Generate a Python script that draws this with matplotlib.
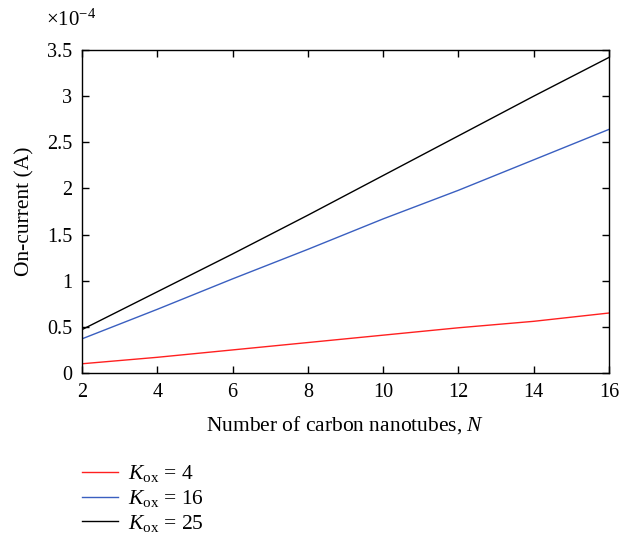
import matplotlib
matplotlib.use("Agg")
from matplotlib import pyplot as plt
from matplotlib.ticker import FuncFormatter
import numpy as np

plt.rcParams['font.family'] = ['Liberation Serif', 'DejaVu Serif']
plt.rcParams['mathtext.fontset'] = 'custom'
plt.rcParams['mathtext.rm'] = 'Liberation Serif'
plt.rcParams['mathtext.it'] = 'Liberation Serif:italic'

N = [2, 4, 6, 8, 10, 12, 14, 16]
# on-current in units of 1e-4 A
i_k4 = [0.10, 0.17, 0.25, 0.33, 0.41, 0.49, 0.56, 0.65]
i_k16 = [0.37, 0.69, 1.02, 1.34, 1.67, 1.98, 2.31, 2.64]
i_k25 = [0.47, 0.88, 1.29, 1.71, 2.14, 2.57, 3.00, 3.42]
labels = [r'$K_{\mathrm{ox}}$ = 4', r'$K_{\mathrm{ox}}$ = 16', r'$K_{\mathrm{ox}}$ = 25']
colors = ['#ff2020', '#3a5fc0', 'black']

SCALE = 1e-4

fig = plt.figure(figsize=(6.38, 5.38), dpi=100)
ax = fig.add_axes([0.1285, 0.3067, 0.826, 0.6003])

for ys, lab, c in zip([i_k4, i_k16, i_k25], labels, colors):
    ax.plot(N, np.array(ys) * SCALE, color=c, lw=1.0, label=lab)

ax.set_xlim(2, 16)
ax.set_ylim(0, 3.5e-4)
ax.set_xticks(N)
ax.set_yticks(np.arange(0, 3.51, 0.5) * SCALE)
ax.yaxis.set_major_formatter(FuncFormatter(lambda v, p: '%g' % round(v / SCALE, 3)))
ax.tick_params(direction='in', top=True, right=True, labelsize=14.5, length=5, width=1.0, pad=7)
for s in ax.spines.values():
    s.set_linewidth(1.0)

ax.set_xlabel('Number of carbon nanotubes, $N$', fontsize=15.5, labelpad=9)
ax.set_ylabel('On-current (A)', fontsize=15.5, labelpad=9)
fig.text(0.072, 0.963, r'$\times10^{-4}$', fontsize=15, ha='left', va='center')

fig.legend(loc='upper left', bbox_to_anchor=(0.1285, 0.139), frameon=False,
           fontsize=15.5, handlelength=1.65, handletextpad=0.5, labelspacing=0.18,
           borderpad=0, borderaxespad=0)

fig.savefig('out.png', dpi=100)
